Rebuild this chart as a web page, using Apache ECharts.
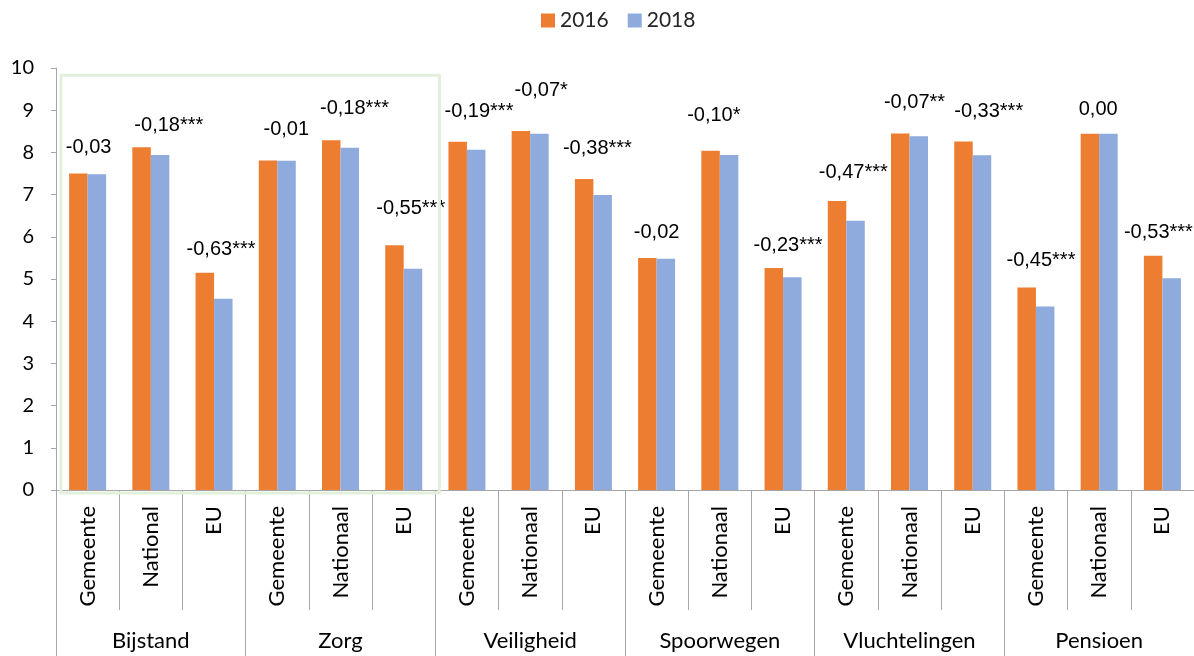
<!DOCTYPE html>
<html>
<head>
<meta charset="utf-8">
<script src="https://cdn.jsdelivr.net/npm/echarts@6/dist/echarts.min.js"></script>
<style>
  html, body { margin: 0; padding: 0; background: #fff; }
</style>
</head>
<body>
<div id="chart" style="width: 1194px; height: 656px;"></div>
<script>
    // categorieen
    const groups = ['Bijstand', 'Zorg', 'Veiligheid', 'Spoorwegen', 'Vluchtelingen', 'Pensioen']
    const subCats = [
        'Gemeente', 'National', 'EU',
        'Gemeente', 'Nationaal', 'EU',
        'Gemeente', 'Nationaal', 'EU',
        'Gemeente', 'Nationaal', 'EU',
        'Gemeente', 'Nationaal', 'EU',
        'Gemeente', 'Nationaal', 'EU'
    ]
    // waarden per jaar
    const values2016 = [7.50, 8.12, 5.15, 7.81, 8.29, 5.80, 8.25, 8.51, 7.37, 5.50, 8.04, 5.26, 6.85, 8.45, 8.26, 4.80, 8.44, 5.55]
    const values2018 = [7.48, 7.94, 4.53, 7.80, 8.11, 5.24, 8.06, 8.44, 6.99, 5.48, 7.94, 5.04, 6.38, 8.38, 7.93, 4.35, 8.44, 5.02]
    // verschil 2018 - 2016 met significantie
    const diffLabels = [
        '-0,03', '-0,18***', '-0,63***',
        '-0,01', '-0,18***', '-0,55***',
        '-0,19***', '-0,07*', '-0,38***',
        '-0,02', '-0,10*', '-0,23***',
        '-0,47***', '-0,07**', '-0,33***',
        '-0,45***', '0,00', '-0,53***'
    ]

    const axisFont = 'Lato, "Open Sans", sans-serif'
    const labelFont = '"Liberation Sans", Arial, sans-serif'
    const barW = 18.5
    // labels zijn in Excel met de hand verschoven: afstand boven de balk en horizontale verschuiving
    const labelLift = [16, 12, 13, 21, 22, 27, 20, 30, 21, 15, 25, 13, 18, 21, 20, 17, 14, 13]
    const labelNudge = [1, 18, 7, 9, 14, 7, 12, 11, 4, 0, -6, 5, 7, 5, 16, 5, -1, -4]

    const chart = echarts.init(document.getElementById('chart'))
    chart.setOption({
        animation: false,
        color: ['#ED7D31', '#8FAADC'],
        legend: {
            top: 5,
            left: 536,
            itemWidth: 14,
            itemHeight: 14,
            itemGap: 19,
            icon: 'rect',
            textStyle: {fontFamily: axisFont, fontSize: 21, color: '#262626'},
            data: ['2016', '2018']
        },
        grid: {left: 56, top: 68, width: 1140, bottom: 166},
        xAxis: [
            {
                type: 'category',
                data: subCats,
                position: 'bottom',
                axisLine: {show: true, lineStyle: {color: '#A6A6A6', width: 1}},
                axisTick: {show: true, interval: 0, length: 120, lineStyle: {color: '#A6A6A6'}},
                axisLabel: {
                    interval: 0, rotate: 90, margin: 16,
                    fontFamily: axisFont, fontSize: 22, color: '#000'
                }
            },
            {
                type: 'category',
                data: groups,
                position: 'bottom',
                axisLine: {show: false},
                axisTick: {show: true, interval: 0, length: 170, lineStyle: {color: '#A6A6A6'}},
                axisLabel: {
                    interval: 0, margin: 140,
                    fontFamily: axisFont, fontSize: 22, color: '#000'
                }
            }
        ],
        yAxis: {
            type: 'value',
            min: 0,
            max: 10,
            interval: 1,
            splitLine: {show: false},
            axisLine: {show: true, lineStyle: {color: '#A6A6A6'}},
            axisTick: {show: true, length: 5, lineStyle: {color: '#A6A6A6'}},
            axisLabel: {margin: 22, fontFamily: axisFont, fontSize: 20, color: '#000'}
        },
        series: [
            {
                name: '2016',
                type: 'bar',
                barWidth: barW,
                barGap: 0,
                data: values2016.map((v, i) => ({
                    value: v,
                    label: {distance: labelLift[i], offset: [barW / 2 + labelNudge[i], 0]}
                })),
                label: {
                    show: true,
                    position: 'top',
                    formatter: (p) => diffLabels[p.dataIndex],
                    fontFamily: labelFont,
                    fontSize: 20,
                    color: '#000'
                }
            },
            {
                name: '2018',
                type: 'bar',
                barWidth: barW,
                barGap: 0,
                data: values2018
            }
        ]
    })

    // lichtgroen kader rond Bijstand en Zorg
    const catW = 1140 / subCats.length
    const x0 = chart.convertToPixel({xAxisIndex: 0}, 0) - catW / 2 + 5
    const x1 = chart.convertToPixel({xAxisIndex: 0}, 5) + catW / 2 + 4
    const y0 = chart.convertToPixel({yAxisIndex: 0}, 9.83)
    const y1 = chart.convertToPixel({yAxisIndex: 0}, 0) + 3
    chart.setOption({
        graphic: [{
            type: 'rect',
            shape: {x: x0, y: y0, width: x1 - x0, height: y1 - y0},
            style: {fill: 'none', stroke: '#E2EFDA', lineWidth: 3},
            z: 10
        }]
    })
</script>
</body>
</html>
